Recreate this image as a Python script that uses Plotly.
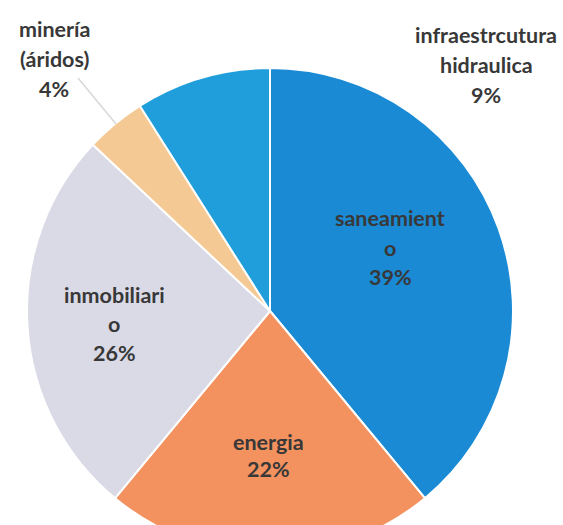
import plotly.graph_objects as go

# Distribution by sector (percent)
sectors = ["saneamiento", "energia", "inmobiliario", "minería (áridos)", "infraestrcutura hidraulica"]
shares = [39, 22, 26, 4, 9]
colors = ["#1a8ad5", "#f3915f", "#dadae6", "#f5c993", "#1f9edb"]

# How each sector name is broken across lines in its label
name_lines = [
    ["saneamient", "o"],
    ["energia"],
    ["inmobiliari", "o"],
    ["minería", "(áridos)"],
    ["infraestrcutura", "hidraulica"],
]
# Label anchors (pixel centre of the first line, measured from the top-left)
label_anchor = [(390, 218), (268, 442), (114, 295), (54, 29), (486, 35)]
line_step = [29.5, 27, 29, 30, 30]

W, H = 563, 556
cx, cy, R = 270, 311, 243

fig = go.Figure(
    go.Pie(
        labels=sectors,
        values=shares,
        sort=False,
        direction="clockwise",
        rotation=0,
        marker=dict(colors=colors, line=dict(color="white", width=2)),
        textinfo="none",
        hoverinfo="label+percent",
        showlegend=False,
        domain=dict(
            x=[(cx - R) / W, (cx + R) / W],
            y=[max(0.0, (H - cy - R) / H), min(1.0, (H - cy + R) / H)],
        ),
    )
)

annotations = []
for lines, share, (ax, ay), step in zip(name_lines, shares, label_anchor, line_step):
    for i, txt in enumerate(lines + [f"{share}%"]):
        annotations.append(
            dict(
                x=ax / W,
                y=1 - (ay + i * step) / H,
                xref="paper",
                yref="paper",
                text=txt,
                showarrow=False,
                xanchor="center",
                yanchor="middle",
                font=dict(family="Lato", size=21.5, color="#383838", weight="bold"),
            )
        )

# Leader line from the small slice to its label
fig.add_shape(
    type="line",
    xref="paper",
    yref="paper",
    x0=116 / W,
    y0=1 - 124 / H,
    x1=78 / W,
    y1=1 - 78 / H,
    line=dict(color="#d8d8d8", width=1.5),
)

fig.update_layout(
    width=W,
    height=H,
    margin=dict(l=0, r=0, t=0, b=0),
    paper_bgcolor="white",
    plot_bgcolor="white",
    annotations=annotations,
)

fig.write_html(
    "out.html",
    post_script="document.body.style.margin='0';document.body.style.overflow='hidden';",
)
